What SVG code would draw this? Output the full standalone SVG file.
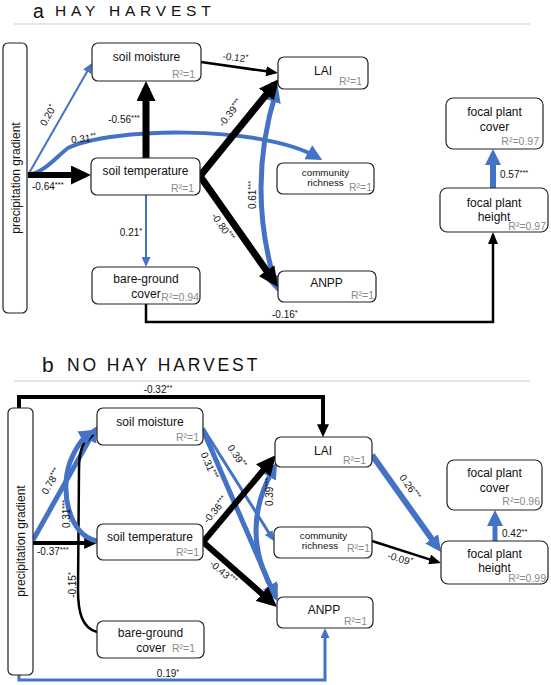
<svg xmlns="http://www.w3.org/2000/svg" width="551" height="685" viewBox="0 0 551 685">
<style>
text{font-family:"Liberation Sans",Arial,sans-serif;fill:#111}
.box{fill:#fff;stroke:#222;stroke-width:1.2}
.nl{font-size:12px;text-anchor:middle}
.sl{font-size:9.8px;text-anchor:middle}
.r2{font-size:10.5px;fill:#8a8a8a;text-anchor:end}
.el{font-size:10px;text-anchor:middle}
.els{font-size:10px}
.st{font-size:7.5px}
.k{fill:none;stroke:#000}
.u{fill:none;stroke:#4472c4}
.sep{stroke:#ddd;stroke-width:1.5}
.ttl{font-size:15.5px;letter-spacing:4.8px}
</style>
<defs>
<marker id="mBK" markerUnits="userSpaceOnUse" viewBox="0 0 20 19" markerWidth="20" markerHeight="19" refX="13" refY="9.5" orient="auto"><path d="M0,0 L20,9.5 L0,19 z" fill="#000"/></marker>
<marker id="mBM" markerUnits="userSpaceOnUse" viewBox="0 0 13 12" markerWidth="13" markerHeight="12" refX="8.5" refY="6" orient="auto"><path d="M0,0 L13,6 L0,12 z" fill="#000"/></marker>
<marker id="mBT" markerUnits="userSpaceOnUse" viewBox="0 0 12 10" markerWidth="12" markerHeight="10" refX="9" refY="5" orient="auto"><path d="M0,0 L12,5 L0,10 z" fill="#000"/></marker>
<marker id="mUK" markerUnits="userSpaceOnUse" viewBox="0 0 16 16" markerWidth="16" markerHeight="16" refX="10" refY="8" orient="auto"><path d="M0,0 L16,8 L0,16 z" fill="#4472c4"/></marker>
<marker id="mUKs" markerUnits="userSpaceOnUse" viewBox="0 0 16 16" markerWidth="16" markerHeight="16" refX="10" refY="8" orient="auto-start-reverse"><path d="M0,0 L16,8 L0,16 z" fill="#4472c4"/></marker>
<marker id="mUT" markerUnits="userSpaceOnUse" viewBox="0 0 10 9" markerWidth="10" markerHeight="9" refX="6.5" refY="4.5" orient="auto"><path d="M0,0 L10,4.5 L0,9 z" fill="#4472c4"/></marker>
</defs>
<rect width="551" height="685" fill="#fff"/>

<g id="titles">
<text x="33" y="17.5" font-size="19.5">a</text>
<text x="55" y="16" class="ttl">HAY HARVEST</text>
<line class="sep" x1="14" y1="24" x2="530" y2="24"/>
<text x="42" y="372" font-size="21">b</text>
<text x="67" y="371" font-size="17.5" letter-spacing="2.9">NO HAY HARVEST</text>
<line class="sep" x1="14" y1="381" x2="530" y2="381"/>
</g>

<g id="connectors">
<!-- panel a -->
<path class="u" stroke-width="5" d="M276,92 Q246,188 276,286" marker-start="url(#mUKs)" marker-end="url(#mUKs)"/>
<line class="u" stroke-width="2" x1="28" y1="175" x2="90.3" y2="66" marker-end="url(#mUT)"/>
<path class="u" stroke-width="4" d="M28,175 C45,172 55,158 68,148 C110,128 258,124 317,157" marker-end="url(#mUK)"/>
<line class="k" stroke-width="6" x1="28" y1="175" x2="84" y2="175" marker-end="url(#mBK)"/>
<line class="k" stroke-width="7" x1="146" y1="158" x2="146" y2="88" marker-end="url(#mBK)"/>
<line class="k" stroke-width="2.5" x1="201" y1="62" x2="275" y2="72.6" marker-end="url(#mBT)"/>
<line class="k" stroke-width="7" x1="200" y1="176" x2="274.6" y2="84.4" marker-end="url(#mBK)"/>
<line class="k" stroke-width="7" x1="200" y1="176" x2="274" y2="281.3" marker-end="url(#mBK)"/>
<line class="u" stroke-width="2" x1="146" y1="195" x2="146" y2="263.5" marker-end="url(#mUT)"/>
<path class="k" stroke-width="2.5" d="M146,304 V322 H493 V235" marker-end="url(#mBT)"/>
<line class="u" stroke-width="6" x1="493" y1="188" x2="493" y2="155" marker-end="url(#mUK)"/>

<text class="el" transform="translate(51,117) rotate(-60)">0.20<tspan class="st" dy="-3">*</tspan></text>
<text class="el" transform="translate(84,142) rotate(-6)">0.31<tspan class="st" dy="-3">**</tspan></text>
<text class="els" x="32" y="190">-0.64<tspan class="st" dy="-3">***</tspan></text>
<text class="el" x="124" y="123">-0.56<tspan class="st" dy="-3">***</tspan></text>
<text class="el" transform="translate(235,61) rotate(7)">-0.12<tspan class="st" dy="-3">*</tspan></text>
<text class="el" transform="translate(233,115) rotate(-52)">-0.39<tspan class="st" dy="-3">***</tspan></text>
<text class="el" transform="translate(220,229) rotate(55)">-0.80<tspan class="st" dy="-3">***</tspan></text>
<text class="el" transform="translate(256,195) rotate(-90)">0.61<tspan class="st" dy="-3">***</tspan></text>
<text class="el" x="131" y="236">0.21<tspan class="st" dy="-3">*</tspan></text>
<text class="els" x="272" y="318">-0.16<tspan class="st" dy="-3">*</tspan></text>
<text class="els" x="500" y="178">0.57<tspan class="st" dy="-3">***</tspan></text>

<!-- panel b -->
<path class="k" stroke-width="4" d="M19,408 V397 H323 V432.7" marker-end="url(#mBM)"/>
<path class="u" stroke-width="5" d="M274,468 Q237.5,531 275,594" marker-start="url(#mUKs)" marker-end="url(#mUKs)"/>
<line class="k" stroke-width="4" x1="33" y1="543" x2="92.7" y2="543" marker-end="url(#mBM)"/>
<line class="u" stroke-width="5" x1="33" y1="540" x2="94.1" y2="431.2" marker-end="url(#mUK)"/>
<path class="k" stroke-width="2.5" d="M97,632 C82,628 78,612 78,590 L79,470 C79,450 83,440 92,436" marker-end="url(#mBT)"/>
<path class="u" stroke-width="5" d="M97,541 C68,535 60,490 70,462 C76,447 82,438 90,433" marker-end="url(#mUK)"/>
<line class="u" stroke-width="5" x1="203" y1="430" x2="274.6" y2="595.5" marker-end="url(#mUK)"/>
<line class="u" stroke-width="3" x1="203" y1="428" x2="272.1" y2="538" marker-end="url(#mUT)"/>
<line class="k" stroke-width="6" x1="203" y1="542" x2="271.5" y2="460.4" marker-end="url(#mBK)"/>
<line class="k" stroke-width="6" x1="203" y1="542" x2="271.7" y2="602.4" marker-end="url(#mBK)"/>
<line class="u" stroke-width="6" x1="372" y1="455" x2="437.5" y2="547" marker-end="url(#mUK)"/>
<line class="k" stroke-width="2.5" x1="372" y1="541" x2="438.1" y2="562.1" marker-end="url(#mBT)"/>
<line class="u" stroke-width="5" x1="495" y1="541" x2="495" y2="516" marker-end="url(#mUK)"/>
<path class="u" stroke-width="3" d="M19,675 V680 H325 V631.5" marker-end="url(#mUT)"/>

<text class="el" x="158" y="393">-0.32<tspan class="st" dy="-3">**</tspan></text>
<text class="el" transform="translate(54,483) rotate(-60)">0.78<tspan class="st" dy="-3">***</tspan></text>
<text class="el" transform="translate(70,514) rotate(-90)">0.31<tspan class="st" dy="-3">***</tspan></text>
<text class="els" x="37" y="555">-0.37<tspan class="st" dy="-3">***</tspan></text>
<text class="el" transform="translate(76,585) rotate(-90)">-0.15<tspan class="st" dy="-3">*</tspan></text>
<text class="el" transform="translate(206,467) rotate(67)">0.31<tspan class="st" dy="-3">***</tspan></text>
<text class="el" transform="translate(234,458) rotate(57)">0.39<tspan class="st" dy="-3">**</tspan></text>
<text class="el" transform="translate(218,512) rotate(-50)">-0.36<tspan class="st" dy="-3">***</tspan></text>
<text class="el" transform="translate(221,575) rotate(40)">-0.43<tspan class="st" dy="-3">***</tspan></text>
<text class="el" transform="translate(273,492) rotate(-90)">0.39<tspan class="st" dy="-3">***</tspan></text>
<text class="el" transform="translate(407,489) rotate(55)">0.26<tspan class="st" dy="-3">***</tspan></text>
<text class="el" transform="translate(399,562) rotate(17)">-0.09<tspan class="st" dy="-3">*</tspan></text>
<text class="els" x="502" y="537">0.42<tspan class="st" dy="-3">**</tspan></text>
<text class="el" x="168" y="677">0.19<tspan class="st" dy="-3">*</tspan></text>
</g>

<!-- panel a nodes -->
<g id="a-precip"><rect class="box" x="3" y="43" width="24" height="270" rx="5"/><text class="nl" font-size="12.5" transform="translate(20,178) rotate(-90)">precipitation gradient</text></g>
<g id="a-soil-moisture"><rect class="box" x="92" y="43" width="109" height="38" rx="6"/><text class="nl" x="146.5" y="61">soil moisture</text><text class="r2" x="195" y="78">R²=1</text></g>
<g id="a-soil-temperature"><rect class="box" x="91" y="158" width="109" height="37" rx="6"/><text class="nl" x="145.5" y="175">soil temperature</text><text class="r2" x="194" y="192">R²=1</text></g>
<g id="a-bare-ground"><rect class="box" x="92" y="267" width="108" height="37" rx="6"/><text class="nl" x="146" y="283">bare-ground</text><text class="nl" x="146" y="298">cover</text><text class="r2" x="199" y="301">R²=0.94</text></g>
<g id="a-lai"><rect class="box" x="278" y="57" width="90" height="32" rx="6"/><text class="nl" x="323" y="75">LAI</text><text class="r2" x="362" y="85">R²=1</text></g>
<g id="a-richness"><rect class="box" x="277" y="163" width="97" height="31" rx="6"/><text class="sl" x="325.5" y="175.5">community</text><text class="sl" x="325.5" y="185.5">richness</text><text class="r2" x="372" y="191">R²=1</text></g>
<g id="a-anpp"><rect class="box" x="278" y="271" width="98" height="31" rx="6"/><text class="nl" x="326.5" y="287">ANPP</text><text class="r2" x="374" y="299">R²=1</text></g>
<g id="a-focal-cover"><rect class="box" x="446" y="98" width="97" height="51" rx="7"/><text class="nl" x="494.5" y="116">focal plant</text><text class="nl" x="494.5" y="131">cover</text><text class="r2" x="539" y="145">R²=0.97</text></g>
<g id="a-focal-height"><rect class="box" x="440" y="188" width="108" height="44" rx="7"/><text class="nl" x="494" y="207">focal plant</text><text class="nl" x="494" y="221">height</text><text class="r2" x="546" y="230">R²=0.97</text></g>

<!-- panel b nodes -->
<g id="b-precip"><rect class="box" x="8" y="408" width="25" height="267" rx="5"/><text class="nl" font-size="12.5" transform="translate(25,541) rotate(-90)">precipitation gradient</text></g>
<g id="b-soil-moisture"><rect class="box" x="97" y="408" width="106" height="37" rx="6"/><text class="nl" x="150" y="426">soil moisture</text><text class="r2" x="199" y="441">R²=1</text></g>
<g id="b-soil-temperature"><rect class="box" x="97" y="524" width="106" height="36" rx="6"/><text class="nl" x="150" y="541">soil temperature</text><text class="r2" x="199" y="556">R²=1</text></g>
<g id="b-bare-ground"><rect class="box" x="97" y="621" width="107" height="37" rx="6"/><text class="nl" x="150.5" y="637">bare-ground</text><text class="nl" x="151" y="652">cover</text><text class="r2" x="195" y="652">R²=1</text></g>
<g id="b-lai"><rect class="box" x="275" y="437" width="97" height="30" rx="6"/><text class="nl" x="323" y="455">LAI</text><text class="r2" x="366" y="464">R²=1</text></g>
<g id="b-richness"><rect class="box" x="274" y="527" width="98" height="31" rx="6"/><text class="sl" x="323.5" y="539">community</text><text class="sl" x="320" y="549">richness</text><text class="r2" x="370" y="552">R²=1</text></g>
<g id="b-anpp"><rect class="box" x="277" y="597" width="96" height="31" rx="6"/><text class="nl" x="324" y="614">ANPP</text><text class="r2" x="367" y="625">R²=1</text></g>
<g id="b-focal-cover"><rect class="box" x="447" y="460" width="95" height="50" rx="7"/><text class="nl" x="494.5" y="477">focal plant</text><text class="nl" x="494.5" y="492">cover</text><text class="r2" x="540" y="505">R²=0.96</text></g>
<g id="b-focal-height"><rect class="box" x="441" y="541" width="107" height="43" rx="7"/><text class="nl" x="494.5" y="558">focal plant</text><text class="nl" x="494.5" y="572">height</text><text class="r2" x="546" y="582">R²=0.99</text></g>
</svg>
